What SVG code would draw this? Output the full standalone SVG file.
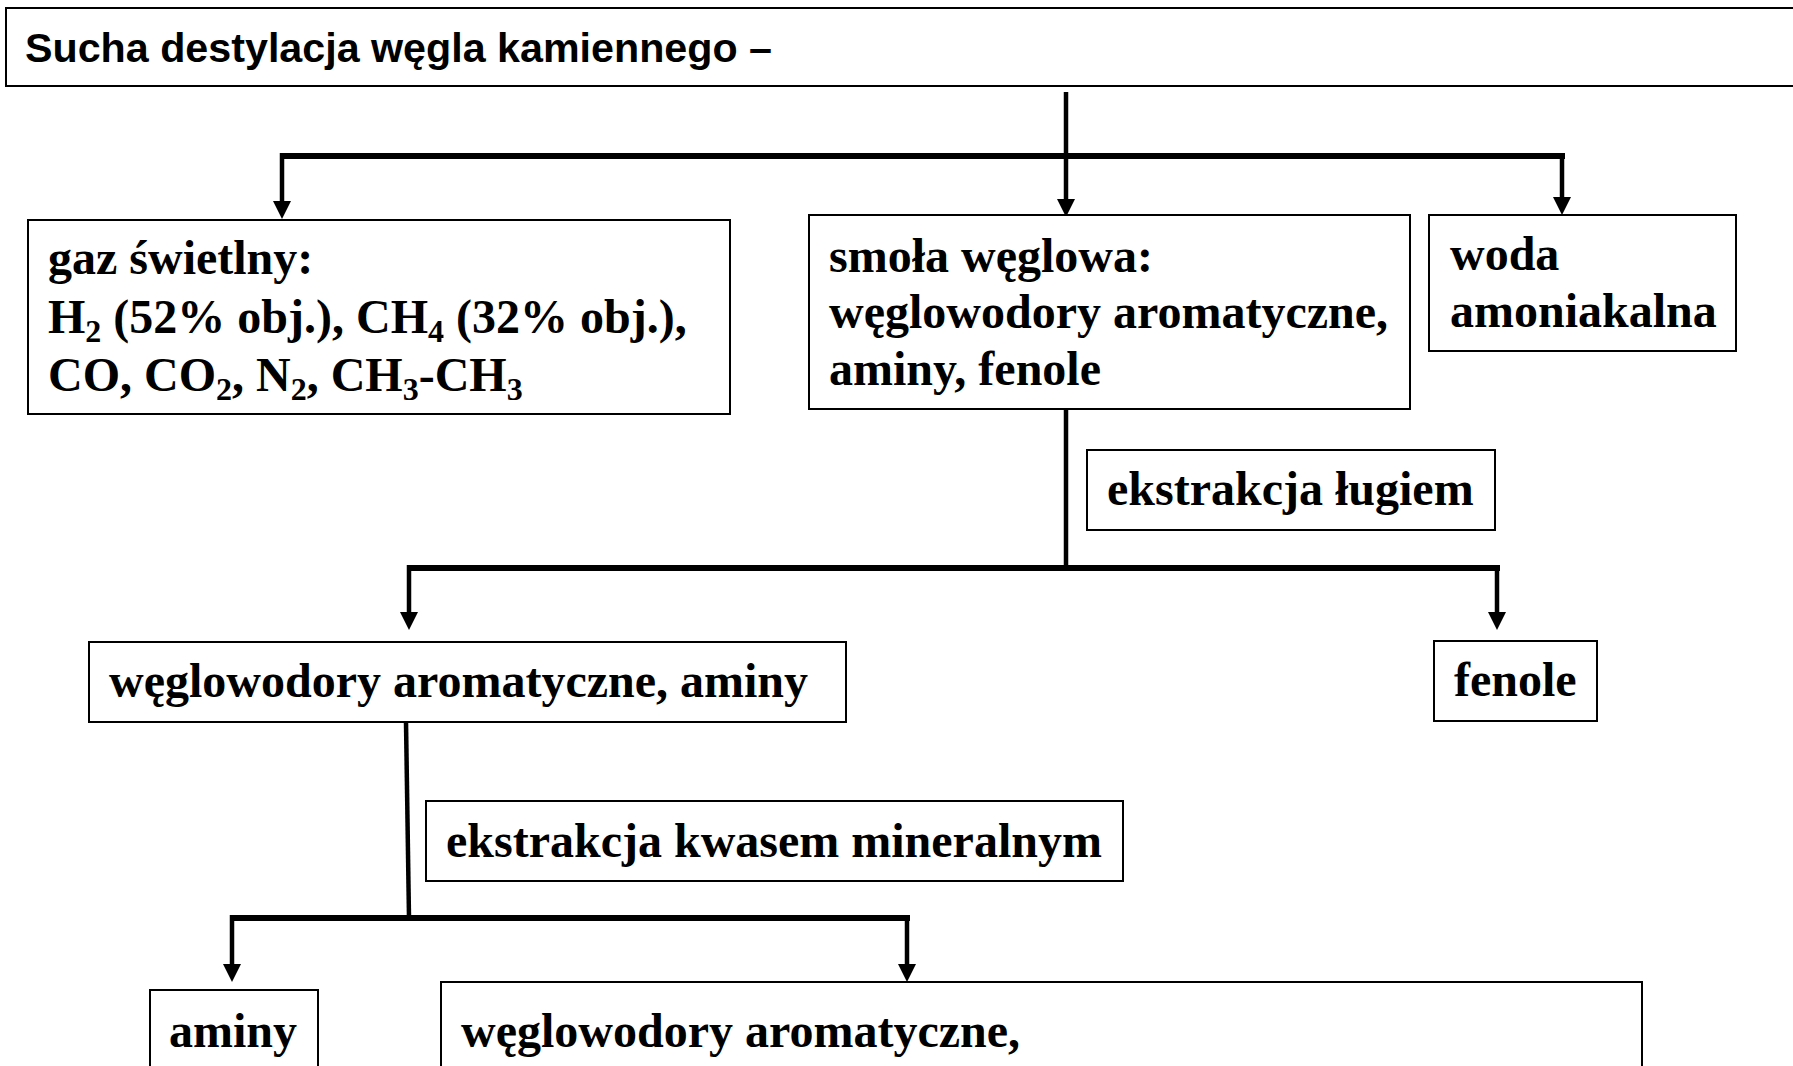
<svg xmlns="http://www.w3.org/2000/svg" width="1793" height="1066" viewBox="0 0 1793 1066">
<style>
.box{fill:#fff;stroke:#000;stroke-width:2}
.t{font-family:"Liberation Serif","Times New Roman",serif;font-weight:bold;font-size:48px;fill:#000}
.sub{font-size:32px}
.title{font-family:"Liberation Sans",Arial,sans-serif;font-weight:bold;font-size:41px;fill:#000}
.v{stroke:#000;stroke-width:4.5;fill:none}
.h{stroke:#000;stroke-width:6;fill:none}
</style>
<defs>
<marker id="arr" markerUnits="userSpaceOnUse" markerWidth="18" markerHeight="18" refX="0" refY="9" orient="auto" viewBox="0 0 18 18">
<path d="M0,0 L18,9 L0,18 z" fill="#000"/>
</marker>
</defs>
<rect width="1793" height="1066" fill="#fff"/>

<g id="title">
<rect class="box" x="6" y="8" width="1800" height="78"/>
<text class="title" x="25" y="62" textLength="747" lengthAdjust="spacingAndGlyphs">Sucha destylacja węgla kamiennego –</text>
</g>

<g id="connectors">
<path class="v" d="M1066,92 V199" marker-end="url(#arr)"/>
<path class="h" d="M280,156 H1565"/>
<path class="v" d="M282,153 V201" marker-end="url(#arr)"/>
<path class="v" d="M1562,153 V197" marker-end="url(#arr)"/>
<path class="v" d="M1066,409 V568"/>
<path class="h" d="M407,568 H1500"/>
<path class="v" d="M409,565 V612" marker-end="url(#arr)"/>
<path class="v" d="M1497,565 V612" marker-end="url(#arr)"/>
<path class="v" d="M406,722 L409,918"/>
<path class="h" d="M230,918 H910"/>
<path class="v" d="M232,915 V964" marker-end="url(#arr)"/>
<path class="v" d="M907,915 V964" marker-end="url(#arr)"/>
</g>

<g id="gaz">
<rect class="box" x="28" y="220" width="702" height="194"/>
<text class="t" x="48" y="274">gaz świetlny:</text>
<text class="t" x="48" y="333">H<tspan class="sub" dy="9">2</tspan><tspan dy="-9"> (52% obj.), CH</tspan><tspan class="sub" dy="9">4</tspan><tspan dy="-9"> (32% obj.),</tspan></text>
<text class="t" x="48" y="391">CO, CO<tspan class="sub" dy="9">2</tspan><tspan dy="-9">, N</tspan><tspan class="sub" dy="9">2</tspan><tspan dy="-9">, CH</tspan><tspan class="sub" dy="9">3</tspan><tspan dy="-9">-CH</tspan><tspan class="sub" dy="9">3</tspan></text>
</g>

<g id="smola">
<rect class="box" x="809" y="215" width="601" height="194"/>
<text class="t" x="829" y="272">smoła węglowa:</text>
<text class="t" x="829" y="328">węglowodory aromatyczne,</text>
<text class="t" x="829" y="385">aminy, fenole</text>
</g>

<g id="woda">
<rect class="box" x="1429" y="215" width="307" height="136"/>
<text class="t" x="1450" y="270">woda</text>
<text class="t" x="1450" y="327">amoniakalna</text>
</g>

<g id="lugiem">
<rect class="box" x="1087" y="450" width="408" height="80"/>
<text class="t" x="1107" y="505">ekstrakcja ługiem</text>
</g>

<g id="fenole">
<rect class="box" x="1434" y="641" width="163" height="80"/>
<text class="t" x="1454" y="696">fenole</text>
</g>

<g id="wa-aminy">
<rect class="box" x="89" y="642" width="757" height="80"/>
<text class="t" x="109" y="697">węglowodory aromatyczne, aminy</text>
</g>

<g id="kwasem">
<rect class="box" x="426" y="801" width="697" height="80"/>
<text class="t" x="446" y="857">ekstrakcja kwasem mineralnym</text>
</g>

<g id="aminy">
<rect class="box" x="150" y="990" width="168" height="100"/>
<text class="t" x="169" y="1047">aminy</text>
</g>

<g id="wa">
<rect class="box" x="441" y="982" width="1201" height="100"/>
<text class="t" x="461" y="1047">węglowodory aromatyczne,</text>
</g>
</svg>
